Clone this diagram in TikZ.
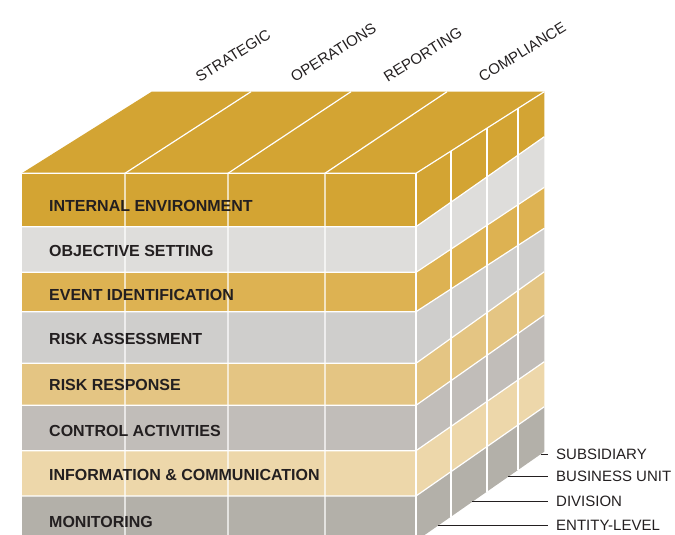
\documentclass[tikz,border=0pt]{standalone}
\usepackage{fontspec}
\setmainfont{Liberation Sans}
\usetikzlibrary{calc}

\definecolor{ink}{HTML}{231F20}
\definecolor{gold}{HTML}{D3A433}
\definecolor{objset}{HTML}{DEDDDB}
\definecolor{eventid}{HTML}{DDB252}
\definecolor{riskass}{HTML}{CFCECC}
\definecolor{riskresp}{HTML}{E4C583}
\definecolor{ctrlact}{HTML}{C1BDB9}
\definecolor{infocom}{HTML}{EDD7AA}
\definecolor{monitor}{HTML}{B3B0A9}

\begin{document}
\begin{tikzpicture}[x=1pt,y=-1pt,
  grid/.style={draw=white,line width=1.2pt},
  layer/.style={anchor=west,inner sep=0pt,text=ink,font=\fontsize{16}{19}\selectfont\bfseries},
  axis/.style={anchor=south west,inner sep=0pt,rotate=32,text=ink,font=\fontsize{15}{18}\selectfont},
  unit/.style={anchor=west,inner xsep=8pt,inner ysep=0pt,text=ink,font=\fontsize{15}{18}\selectfont},
  leader/.style={draw=ink,line width=0.9pt}]
\useasboundingbox (0,0) rectangle (675,535);
\clip (0,0) rectangle (675,535);
\coordinate (L) at (21.7,0);
\foreach \i/\f/\b in {0/173.3/91.7,1/226.7/136.7,2/272.3/187.3,3/311.7/228.3,4/363.3/271.7,
  5/405.3/315,6/450.7/361.7,7/496/406.7,8/541/451.7}{%
  \coordinate (F\i) at (416,\f);
  \coordinate (B\i) at (544.3,\b);
}
\fill[gold] (L |- F0) -- (151.7,91.7) -- (B0) -- (F0) -- cycle;
\foreach \i/\c [evaluate=\i as \j using int(\i+1)] in {0/gold,1/objset,2/eventid,3/riskass,
  4/riskresp,5/ctrlact,6/infocom,7/monitor}{%
  \fill[\c] (L |- F\i) rectangle (F\j);
  \fill[\c] (F\i) -- (B\i) -- (B\j) -- (F\j) -- cycle;
  \draw[grid] (L |- F\i) -- (F\i) -- (B\i);
}
\foreach \x/\y in {125/251,228/351,325/447}{%
  \draw[grid] (\x,541) -- (\x,173.3) -- (\y,91.7);
}
\draw[grid] (F0) -- (F8);
\foreach \t in {0.273,0.553,0.795}{%
  \draw[grid] ($(F0)!\t!(B0)$) -- ($(F8)!\t!(B8)$);
}
\foreach \i/\y/\txt in {0/206/INTERNAL ENVIRONMENT,1/251/OBJECTIVE SETTING,2/295/EVENT IDENTIFICATION,
  3/339/RISK ASSESSMENT,4/384.5/RISK RESPONSE,5/431/CONTROL ACTIVITIES,
  6/474.5/INFORMATION \& COMMUNICATION,7/522/MONITORING}{%
  \node[layer] (layer\i) at (49,\y) {\txt};
}
\foreach \i/\x/\txt in {1/200/STRATEGIC,2/295/OPERATIONS,3/388/REPORTING,4/483/COMPLIANCE}{%
  \node[axis] (obj\i) at (\x,83) {\txt};
}
\foreach \i/\t/\y/\txt in {1/0.974/454/SUBSIDIARY,2/0.72/476.7/BUSINESS UNIT,
  3/0.44/501.7/DIVISION,4/0.171/525.7/ENTITY-LEVEL}{%
  \coordinate (U\i) at ($(F8)!\t!(B8)$);
  \node[unit] (unit\i) at (548,\y) {\txt};
  \draw[leader] (unit\i.west -| U\i) -- (unit\i.west);
}
\end{tikzpicture}
\end{document}
